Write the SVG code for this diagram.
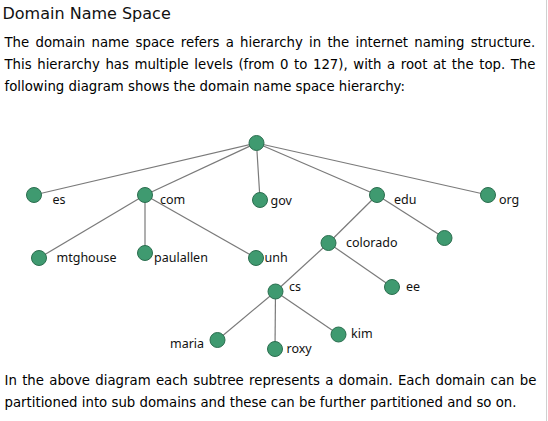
<svg xmlns="http://www.w3.org/2000/svg" width="548" height="421" viewBox="0 0 548 421">
<style>
.title{font-family:"DejaVu Sans",Verdana,sans-serif;font-size:16px;fill:#111}
.body{font-family:"DejaVu Sans",Verdana,sans-serif;font-size:13.3px;fill:#000}
.lbl{font-family:"Noto Sans","Open Sans",sans-serif;font-size:12.5px;fill:#111}
.n{fill:#3f9a70;stroke:#2b6e4f;stroke-width:1}
.e{stroke:#7a7a7a;stroke-width:1.2;fill:none}
</style>
<rect width="548" height="421" fill="#fff"/>
<line x1="546.5" y1="0" x2="546.5" y2="421" stroke="#d0d0d0" stroke-width="1"/>
<text class="title" x="2.5" y="19">Domain Name Space</text>
<text class="body" x="4.5" y="46.5" word-spacing="2.03">The domain name space refers a hierarchy in the internet naming structure.</text>
<text class="body" x="4.5" y="68.5" word-spacing="1.31">This hierarchy has multiple levels (from 0 to 127), with a root at the top. The</text>
<text class="body" x="4.5" y="90.5">following diagram shows the domain name space hierarchy:</text>
<text class="body" x="4.5" y="385" word-spacing="1.06">In the above diagram each subtree represents a domain. Each domain can be</text>
<text class="body" x="4.5" y="407">partitioned into sub domains and these can be further partitioned and so on.</text>
<g id="connectors">
<line class="e" x1="256.5" y1="143" x2="34" y2="195"/>
<line class="e" x1="256.5" y1="143" x2="145" y2="195"/>
<line class="e" x1="256.5" y1="143" x2="260" y2="200"/>
<line class="e" x1="256.5" y1="143" x2="377" y2="195"/>
<line class="e" x1="256.5" y1="143" x2="488" y2="195"/>
<line class="e" x1="145" y1="195" x2="39" y2="258"/>
<line class="e" x1="145" y1="195" x2="145" y2="253"/>
<line class="e" x1="145" y1="195" x2="256" y2="258"/>
<line class="e" x1="377" y1="195" x2="328.5" y2="243"/>
<line class="e" x1="377" y1="195" x2="444.5" y2="238"/>
<line class="e" x1="328.5" y1="243" x2="275.5" y2="291.5"/>
<line class="e" x1="328.5" y1="243" x2="392" y2="287"/>
<line class="e" x1="275.5" y1="291.5" x2="217.5" y2="340"/>
<line class="e" x1="275.5" y1="291.5" x2="275" y2="349"/>
<line class="e" x1="275.5" y1="291.5" x2="338.5" y2="334.5"/>
</g>
<g id="root"><circle class="n" cx="256.5" cy="143" r="7.5"/></g>
<g id="es"><circle class="n" cx="34" cy="195" r="7.5"/><text class="lbl" x="52.5" y="204">es</text></g>
<g id="com"><circle class="n" cx="145" cy="195" r="7.5"/><text class="lbl" x="160" y="204">com</text></g>
<g id="gov"><circle class="n" cx="260" cy="200" r="7.5"/><text class="lbl" x="270.5" y="205">gov</text></g>
<g id="edu"><circle class="n" cx="377" cy="195" r="7.5"/><text class="lbl" x="394" y="204">edu</text></g>
<g id="org"><circle class="n" cx="488" cy="195" r="7.5"/><text class="lbl" x="499" y="204">org</text></g>
<g id="mtghouse"><circle class="n" cx="39" cy="258" r="7.5"/><text class="lbl" x="56.5" y="262">mtghouse</text></g>
<g id="paulallen"><circle class="n" cx="145" cy="253" r="7.5"/><text class="lbl" x="154" y="262">paulallen</text></g>
<g id="unh"><circle class="n" cx="256" cy="258" r="7.5"/><text class="lbl" x="264.5" y="262">unh</text></g>
<g id="colorado"><circle class="n" cx="328.5" cy="243" r="7.5"/><text class="lbl" x="346" y="247">colorado</text></g>
<g id="edu-child"><circle class="n" cx="444.5" cy="238" r="7.5"/></g>
<g id="cs"><circle class="n" cx="275.5" cy="291.5" r="7.5"/><text class="lbl" x="289" y="291">cs</text></g>
<g id="ee"><circle class="n" cx="392" cy="287" r="7.5"/><text class="lbl" x="406" y="291">ee</text></g>
<g id="maria"><circle class="n" cx="217.5" cy="340" r="7.5"/><text class="lbl" x="170" y="348">maria</text></g>
<g id="roxy"><circle class="n" cx="275" cy="349" r="7.5"/><text class="lbl" x="286.5" y="353">roxy</text></g>
<g id="kim"><circle class="n" cx="338.5" cy="334.5" r="7.5"/><text class="lbl" x="351" y="338">kim</text></g>
</svg>
